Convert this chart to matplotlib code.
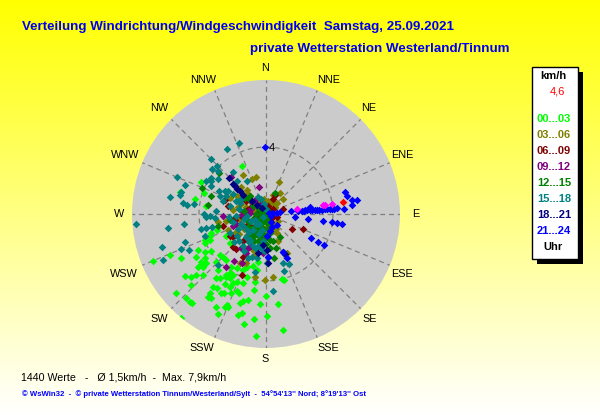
import matplotlib
matplotlib.use("Agg")
import matplotlib.pyplot as plt
import numpy as np
from matplotlib.patches import Rectangle

plt.rcParams["font.family"] = ["Liberation Sans", "DejaVu Sans"]

DIRECTIONS = ["N", "NNE", "NE", "ENE", "E", "ESE", "SE", "SSE",
              "S", "SSW", "SW", "WSW", "W", "WNW", "NW", "NNW"]
DIRECTION_X = [265, 329, 369, 402, 416, 402, 370, 328, 265, 202, 159, 124, 119, 125, 159, 203]
DIRECTION_Y = [68, 80, 108, 155, 214, 274, 319, 348, 359, 348, 319, 274, 214, 155, 108, 80]
HOUR_LABELS = ["00...03", "03...06", "06...09", "09...12", "12...15", "15...18", "18...21", "21...24"]
HOUR_COLORS = ["#00FF00", "#808000", "#800000", "#800080", "#008000", "#008080", "#000080", "#0000FF"]

# wind samples as (east, north) components in km/h, one list per time slot
H00 = [(-6.76, -2.82), (-5.76, -2.46), (-5.06, -2.62), (-1.42, 2.88), (-3.88, 1.92), (-3.72, 1.26),
       (-5.16, 1.34), (-4.24, 0.90), (-3.60, 0.50), (-3.26, -1.14), (-3.36, -1.34), (-2.92, -0.94),
       (-3.66, -1.54), (-4.06, -2.14), (-3.66, -2.24), (-3.26, -2.18), (-4.16, -2.58), (-3.66, -2.64),
       (-2.96, -2.84), (-3.86, -3.04), (-3.56, -2.94), (-4.06, -3.14), (-3.76, -3.18), (-4.86, -3.70),
       (-5.36, -4.70), (-4.46, -3.74), (-4.16, -3.66), (-3.76, -3.66), (-4.46, -4.24), (-4.76, -5.00),
       (-4.56, -5.24), (-4.40, -5.34), (-5.10, -6.18), (-3.36, -4.74), (-3.46, -4.94), (-3.26, -5.04),
       (-3.16, -4.34), (-2.92, -4.40), (-2.46, -4.18), (-2.16, -4.34), (-2.50, -4.70), (-2.66, -4.74),
       (-2.06, -4.74), (-1.76, -4.60), (-1.60, -4.74), (-3.00, -5.54), (-2.46, -5.54), (-2.32, -5.44),
       (-2.26, -5.54), (-2.86, -5.98), (-1.56, -5.34), (-1.36, -5.18), (-1.06, -5.14), (-1.66, -6.04),
       (-1.46, -5.90), (-1.30, -6.54), (-0.70, -6.24), (0.08, -6.06), (-0.36, -5.38), (0.74, -5.38),
       (0.00, -4.90), (-0.60, -7.26), (1.04, -6.90), (-0.72, -4.54), (-0.66, -4.06), (-2.96, -3.84),
       (-2.76, -3.84), (-2.36, -3.64), (-2.16, -3.54), (-1.96, -3.64), (-1.76, -4.04), (-1.36, -4.14),
       (-2.76, -2.44), (-2.56, -2.54), (-2.36, -2.74), (-2.86, -3.34), (-2.06, -3.14), (-1.76, -3.24),
       (-1.36, -3.34), (-1.12, -3.18), (-0.76, -3.10), (-0.52, -3.34), (-2.16, -1.74), (-2.36, -1.34),
       (-1.16, -3.74), (0.94, -3.90), (1.08, -3.94), (-3.36, -1.54), (-3.66, -1.74), (-2.36, -3.74),
       (-2.16, -3.84), (-1.96, -4.14), (-3.66, -2.94), (-3.86, -2.84), (-0.46, -2.84)]
H03 = [(0.80, 1.92), (-1.40, 2.34), (-0.60, 2.20), (-0.86, 2.06), (-0.96, 1.06), (0.44, 1.16),
       (0.84, 1.26), (1.00, 0.90), (0.64, 0.66), (0.44, 0.36), (0.14, 0.26), (-2.86, -0.50),
       (-2.36, -0.44), (-2.26, -0.94), (-0.56, -0.14), (-1.16, 1.46), (-1.46, 1.26), (-1.76, 1.06),
       (-2.16, 0.96), (-1.96, 0.26), (0.44, -0.94), (0.64, -1.14), (0.74, -1.64), (1.28, -2.34),
       (0.44, -3.78), (-0.06, -3.94), (-0.66, -3.74), (-1.20, -2.94), (-1.56, -2.94), (-0.76, -2.14),
       (-0.26, -1.54), (0.24, -0.14), (0.54, 0.42), (0.04, 0.26), (0.04, 0.46), (-0.26, 0.26),
       (-0.50, 0.40), (-0.30, -0.50), (-0.70, 0.10), (0.10, -0.70), (-0.90, -0.80), (-0.20, 0.70),
       (-0.1, 0.9), (0.1, 0.8), (0.2, 0.6), (0.4, 0.7), (0.3, 0.4), (0.5, 0.2), (-0.1, 0.4),
       (-0.3, 0.5), (-0.5, 0.7), (-0.7, 0.3), (-0.9, 0.7), (-1.2, 0.4), (-1.5, 0.6), (-1.7, 0.4),
       (0.6, -0.9), (0.4, -0.6), (0.7, -0.4), (-1.6, -0.3), (-1.3, -0.9), (-1.6, -1.2), (-1.0, -1.5),
       (-0.6, -2.4), (-0.8, -1.6), (-1.8, -1.1), (-1.5, 1.6), (-1.1, 1.2)]
H06 = [(0.40, 0.90), (0.54, 1.16), (1.04, 0.30), (0.64, -0.18), (1.54, -0.90), (2.20, -0.90),
       (-2.26, 0.50), (-2.46, 0.86), (-1.86, -0.34), (-1.36, -2.54), (-1.44, -3.66), (-1.96, -1.98),
       (-1.96, -1.38), (-1.16, 0.26), (-0.46, 0.06), (0.24, 0.26), (0.44, -0.18), (0.14, -0.34),
       (-0.96, -0.74), (-2.56, -0.74), (-2.16, -1.34), (-0.30, 0.20), (-0.60, -0.30), (0.20, 0.10),
       (0.1, 0.1), (0.3, 0.0), (0.2, -0.2), (0.4, 0.3), (0.1, 0.5), (-0.1, 0.3), (-0.3, 0.1),
       (-0.9, 0.4), (-1.5, -0.1), (-1.1, -0.6), (-0.9, -1.3), (-1.4, -1.6), (-1.9, -0.3), (-1.2, 0.8),
       (-0.6, -0.1), (0.3, -0.5), (-1.8, -2.1), (-0.7, -1.1)]
H09 = [(-2.06, 2.20), (-0.44, 1.62), (-2.56, -0.10), (-1.36, -0.04), (-1.26, -0.14), (-1.46, -0.04),
       (-0.96, 0.06), (-0.56, -0.34), (-1.06, -2.04), (-2.36, -3.14), (-1.46, -2.90), (-0.16, -2.30),
       (-1.96, -0.74), (-0.96, 0.86), (-0.76, 0.56), (-1.16, 0.10), (-1.30, 0.00), (-0.30, -0.90),
       (-0.6, 0.9), (-0.7, 0.7), (-0.8, 0.5), (-0.9, 0.3), (-1.0, 0.1), (-1.2, -0.1), (-0.5, 0.4),
       (-0.3, 0.6), (-0.2, 0.2), (-1.4, 0.1), (-1.5, -0.6), (-1.8, -0.6), (-0.6, -1.0), (-0.9, -1.9),
       (-1.2, -2.3), (-1.5, -2.0), (-1.9, -2.8), (-0.2, -1.3)]
H12 = [(-2.80, 2.46), (-3.82, 1.56), (0.54, 1.26), (-3.26, 1.06), (-3.46, 0.56), (-2.86, -0.74),
       (-0.96, 1.06), (-1.26, 0.96), (-2.16, -0.34), (0.04, 0.26), (0.24, -1.54), (0.84, -1.38),
       (0.48, -2.64), (0.24, -2.04), (-0.16, -0.94), (0.24, -1.14), (-0.56, -0.74), (-0.76, -1.34),
       (0.10, -0.40), (-0.30, 0.30), (0.00, -1.80), (-0.50, -1.10),
       (-1.2, -0.3), (-1.0, -0.5), (-0.8, -0.3), (-0.6, -0.5), (-0.4, -0.3), (-0.2, -0.5), (0.0, -0.4),
       (0.1, -0.6), (-1.1, -0.8), (-0.9, -0.9), (-0.7, -0.8), (-0.5, -0.9), (-0.3, -0.8), (-0.1, -0.9),
       (0.1, -0.9), (-1.0, -1.2), (-0.8, -1.3), (-0.6, -1.2), (-0.4, -1.3), (-0.2, -1.2), (0.0, -1.3),
       (-0.7, -1.6), (-0.5, -1.6), (-0.3, -1.7), (-0.1, -1.5), (0.1, -1.2), (-0.6, 0.0), (-0.3, 0.0),
       (-0.1, 0.1), (0.05, -0.1), (-0.4, 0.3), (-0.8, 0.5), (-1.0, 0.9), (-1.3, 0.2), (0.4, -1.6),
       (0.3, -0.8), (0.6, -2.0)]
H15 = [(-1.60, 4.26), (-2.32, 3.90), (-3.26, 3.30), (-2.92, 2.86), (-3.22, 2.66), (-2.86, 2.56),
       (-1.96, 2.52), (-5.32, 2.22), (-4.86, 1.74), (-5.72, 1.02), (-5.10, 1.34), (-5.12, 1.16),
       (-4.96, 0.66), (-4.72, 0.54), (-4.32, 0.58), (-3.26, 2.16), (-2.86, 2.10), (-3.26, 1.96),
       (-3.60, 2.00), (-3.26, 1.66), (-2.80, 1.36), (-2.46, 1.36), (-2.26, 1.36), (-1.16, 2.00),
       (-1.76, 1.96), (-2.76, 1.06), (-2.36, 1.06), (-2.56, 0.76), (-2.96, 0.16), (-3.56, -0.18),
       (-3.72, 0.02), (-3.36, -0.14), (-3.06, -0.24), (-7.76, -0.60), (-5.86, -0.84), (-4.90, -0.60),
       (-3.86, -0.90), (-3.56, -0.84), (-3.22, -0.80), (-3.66, -1.34), (-4.84, -1.68), (-6.22, -1.98),
       (-5.10, -2.10), (-4.60, -2.14), (-6.12, -2.74), (0.40, -4.62), (1.00, -2.94), (1.40, -3.00),
       (1.08, -3.38), (-0.66, -3.44), (0.04, -2.90), (-2.86, -3.04), (-2.16, -1.14), (-1.76, -1.34),
       (-1.16, -0.94), (-1.36, -1.94), (-0.86, -2.54), (-0.56, -2.64), (-2.16, 0.46), (-1.56, 0.66),
       (-1.16, -0.14), (-0.76, -0.94), (-0.26, -0.94), (-0.66, -0.34), (-0.96, -1.54), (-0.60, -0.60),
       (-0.40, -1.20), (-0.90, -0.40), (-0.20, -1.60), (-1.40, -0.70), (-0.50, -1.90), (-1.00, -1.10),
       (-2.2, -0.2), (-2.0, -0.5), (-1.8, -0.1), (-1.6, 0.3), (-1.8, 0.8), (-2.0, 1.2), (-1.5, 0.9),
       (-1.3, -0.3), (-1.5, -0.6), (-1.7, -0.9), (-1.2, -1.4), (-1.0, -1.7), (-0.8, -1.9), (-0.6, -2.1),
       (-0.3, -2.0), (-0.1, -2.2), (-1.3, -2.2), (-1.6, -1.6), (-1.9, -1.7), (-0.4, -0.6), (-0.2, -0.2),
       (0.0, 0.3), (-0.1, 0.6), (-0.5, 1.0), (-0.3, 0.9), (-1.1, -2.6)]
H18 = [(-2.20, 2.12), (-2.00, 1.82), (-1.86, 1.66), (-1.72, 1.50), (-1.56, 1.36), (-1.36, 1.16),
       (-0.86, 0.76), (-0.56, 0.56), (-0.26, 0.36), (0.04, -2.14), (0.14, -2.54), (0.14, -2.90),
       (1.04, -2.24), (1.14, -2.38), (-0.46, -2.34), (-0.16, -1.84)]
H21 = [(-0.04, 4.02), (4.74, 1.30), (4.84, 1.10), (5.44, 0.84), (5.14, 0.86), (5.14, 0.52),
       (4.68, 0.30), (4.24, 0.34), (3.94, 0.30), (3.64, 0.30), (3.34, 0.26), (3.04, 0.26),
       (2.74, 0.26), (2.60, 0.42), (2.44, 0.26), (2.24, 0.20), (1.94, 0.16), (1.48, 0.16),
       (0.84, 0.12), (0.64, 0.06), (1.76, -0.18), (2.48, -0.30), (3.38, -0.42), (3.94, -0.50),
       (4.24, -0.54), (4.54, -0.60), (2.66, -1.44), (3.08, -1.68), (3.46, -1.86), (0.34, -0.78),
       (0.64, -0.64), (1.04, -2.24), (1.24, -2.64), (0.14, -2.54), (0.04, -1.34), (0.44, 0.06),
       (3.84, 0.30), (4.04, 0.30), (2.94, 0.26), (3.14, 0.26), (3.54, 0.30), (2.64, 0.26),
       (2.34, 0.26), (2.14, 0.20), (0.2, 0.05), (0.3, -0.1), (0.3, -0.5), (0.25, -1.0)]
MAGENTA_E = [1.88, 3.40, 3.54, 3.94]
MAGENTA_N = [0.28, 0.54, 0.54, 0.60]
CURRENT_E = [4.58]
CURRENT_N = [0.72]
CURRENT_LABEL = "4,6"

HOUR_DATA = [H00, H03, H06, H09, H12, H15, H18, H21]
MARKER_AREA = 15


def to_polar(east, north):
    east = np.asarray(east)
    north = np.asarray(north)
    return np.arctan2(east, north), np.hypot(east, north)


def draw_background(bg):
    shade = np.linspace(0, 1, 256).reshape(-1, 1)
    colors = np.ones((256, 1, 3))
    colors[:, :, 2] = shade
    bg.imshow(colors, extent=(0, 600, 415, 0), aspect="auto")
    bg.set_xlim(0, 600)
    bg.set_ylim(415, 0)
    bg.axis("off")


def draw_texts(bg):
    bg.text(22, 27, "Verteilung Windrichtung/Windgeschwindigkeit  Samstag, 25.09.2021",
            color="#0000F0", fontsize=9.6, fontweight="bold", va="center")
    bg.text(250, 49, "private Wetterstation Westerland/Tinnum",
            color="#0000F0", fontsize=9.6, fontweight="bold", va="center")
    bg.text(21, 377, "1440 Werte   -   Ø 1,5km/h  -  Max. 7,9km/h", fontsize=7.7, va="center")
    bg.text(22, 394, "© WsWin32  -  © private Wetterstation Tinnum/Westerland/Sylt  -  54°54'13'' Nord; 8°19'13'' Ost",
            color="#0000FF", fontsize=5.6, fontweight="bold", va="center")
    for name, x, y in zip(DIRECTIONS, DIRECTION_X, DIRECTION_Y):
        bg.text(x, y, name, fontsize=7.8, ha="center", va="center")


def draw_legend(bg):
    bg.add_patch(Rectangle((537, 72), 46, 192, facecolor="black", edgecolor="none"))
    bg.add_patch(Rectangle((532, 67), 46, 192, facecolor="white", edgecolor="black", linewidth=1))
    bg.text(553, 76, "km/h", fontsize=8, fontweight="bold", ha="center", va="center")
    bg.text(557, 92, CURRENT_LABEL, fontsize=8, color="#FF0000", ha="center", va="center")
    for i, (label, color) in enumerate(zip(HOUR_LABELS, HOUR_COLORS)):
        bg.text(554, 119 + 16 * i, label, fontsize=8, fontweight="bold", color=color,
                ha="center", va="center")
    bg.text(553, 247, "Uhr", fontsize=8, fontweight="bold", ha="center", va="center")


def draw_rose(ax):
    ax.set_theta_zero_location("N")
    ax.set_theta_direction(-1)
    ax.set_facecolor("#CBCBCB")
    ax.spines["polar"].set_visible(False)
    angles = np.arange(0, 360, 22.5)
    ax.set_thetagrids(angles, [""] * len(angles))
    ax.set_rgrids([4], [""])
    ax.set_rlim(0, 8)
    ax.grid(True, color="#808080", linestyle=(0, (4, 3)), linewidth=0.9)
    ax.tick_params(length=0)
    ax.text(np.radians(5), 3.95, "4", fontsize=8, ha="center", va="center", zorder=5)

    for data, color in zip(HOUR_DATA, HOUR_COLORS):
        east, north = zip(*data)
        theta, speed = to_polar(east, north)
        ax.scatter(theta, speed, s=MARKER_AREA, marker="D", color=color, linewidths=0, zorder=3,
                   antialiased=False)
    theta, speed = to_polar(MAGENTA_E, MAGENTA_N)
    ax.scatter(theta, speed, s=MARKER_AREA, marker="D", color="#FF00FF", linewidths=0, zorder=4,
               antialiased=False)
    theta, speed = to_polar(CURRENT_E, CURRENT_N)
    ax.scatter(theta, speed, s=MARKER_AREA, marker="D", color="#FF0000", linewidths=0, zorder=4,
               antialiased=False)


def main():
    fig = plt.figure(figsize=(6, 4.15), dpi=100)
    bg = fig.add_axes([0, 0, 1, 1], zorder=0)
    draw_background(bg)
    draw_texts(bg)
    draw_legend(bg)
    ax = fig.add_axes([132 / 600, (415 - 348) / 415, 268 / 600, 268 / 415], projection="polar", zorder=1)
    draw_rose(ax)
    fig.savefig("out.png", dpi=100)


if __name__ == "__main__":
    main()
